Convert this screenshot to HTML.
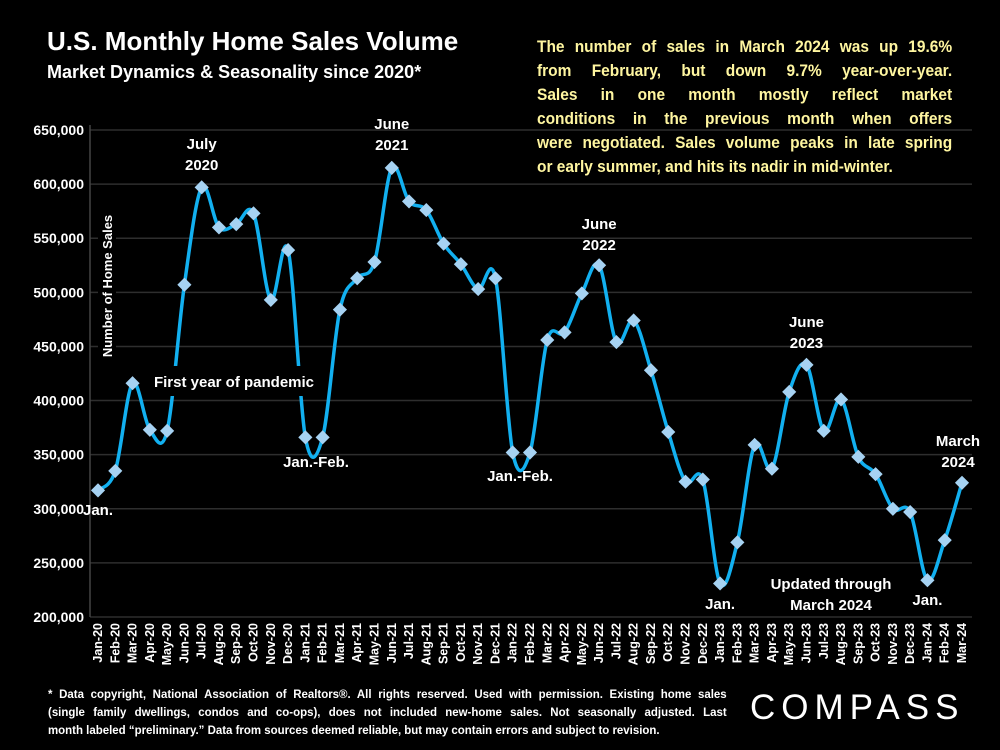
<!DOCTYPE html>
<html><head><meta charset="utf-8">
<style>
body{margin:0;background:#000;width:1000px;height:750px;overflow:hidden;font-family:"Liberation Sans",sans-serif;color:#fff}
.t{position:absolute;font-weight:bold}
.j{display:block;white-space:nowrap;text-align:justify;text-align-last:justify}
.l{display:block;white-space:nowrap}
</style></head><body>
<div class="t" style="left:47px;top:26px;font-size:26px">U.S. Monthly Home Sales Volume</div>
<div class="t" style="left:47px;top:62px;font-size:18px">Market Dynamics &amp; Seasonality since 2020*</div>
<div class="t" style="left:537px;top:35px;width:437px;font-size:16.3px;line-height:24px;color:#fff6a0;transform:scaleX(0.95);transform-origin:0 0">
<span class="j">The number of sales in March 2024 was up 19.6%</span>
<span class="j">from February, but down 9.7% year-over-year.</span>
<span class="j">Sales in one month mostly reflect market</span>
<span class="j">conditions in the previous month when offers</span>
<span class="j">were negotiated. Sales volume peaks in late spring</span>
<span class="l">or early summer, and hits its nadir in mid-winter.</span>
</div>
<div class="t" style="left:48px;top:685px;width:722px;font-size:12.2px;line-height:18px;transform:scaleX(0.94);transform-origin:0 0">
<span class="j">* Data copyright, National Association of Realtors®. All rights reserved. Used with permission. Existing home sales</span>
<span class="j">(single family dwellings, condos and co-ops), does not included new-home sales. Not seasonally adjusted. Last</span>
<span class="l">month labeled “preliminary.” Data from sources deemed reliable, but may contain errors and subject to revision.</span>
</div>
<div class="t" style="left:750px;top:688px;font-size:35px;font-weight:normal;letter-spacing:6px">COMPASS</div>
<svg id="c" width="1000" height="750" style="position:absolute;left:0;top:0"></svg>
<script>
const months=["Jan-20","Feb-20","Mar-20","Apr-20","May-20","Jun-20","Jul-20","Aug-20","Sep-20","Oct-20","Nov-20","Dec-20","Jan-21","Feb-21","Mar-21","Apr-21","May-21","Jun-21","Jul-21","Aug-21","Sep-21","Oct-21","Nov-21","Dec-21","Jan-22","Feb-22","Mar-22","Apr-22","May-22","Jun-22","Jul-22","Aug-22","Sep-22","Oct-22","Nov-22","Dec-22","Jan-23","Feb-23","Mar-23","Apr-23","May-23","Jun-23","Jul-23","Aug-23","Sep-23","Oct-23","Nov-23","Dec-23","Jan-24","Feb-24","Mar-24"];
const sales=[317,335,416,373,372,507,597,560,563,573,493,539,366,366,484,513,528,615,584,576,545,526,503,513,352,352,456,463,499,525,454,474,428,371,325,327,231,269,359,337,408,433,372,401,348,332,300,297,234,271,324];
const yTicks=[200,250,300,350,400,450,500,550,600,650];
const NS="http://www.w3.org/2000/svg",svg=document.getElementById('c');
const x=i=>98+i*(962-98)/(months.length-1);
const y=v=>617-(v-200)*(617-130)/450;
function mk(t,a,p){const e=document.createElementNS(NS,t);for(const k in a)e.setAttribute(k,a[k]);(p||svg).appendChild(e);return e;}
yTicks.forEach(v=>{
 const g=mk('line',{x1:90,x2:972,y1:y(v),y2:y(v),stroke:'#2e2e2e','stroke-width':1.5});
 
 
 const t=mk('text',{x:84,y:y(v)+5,'text-anchor':'end',fill:'#fff','font-size':14,'font-weight':'bold','font-family':'Liberation Sans'});
 t.textContent=(v*1000).toLocaleString('en-US');
 
 
});
mk('line',{x1:90,x2:90,y1:125,y2:617,stroke:'#444','stroke-width':1.5});
months.forEach((m,i)=>{
 const t=mk('text',{transform:`translate(${x(i)+4},623) rotate(-90)`,'text-anchor':'end',fill:'#fff','font-size':12.5,'font-weight':'bold','font-family':'Liberation Sans'});
 t.textContent=m;
 
 
});
const P=sales.map((v,i)=>[x(i),y(v)]);
let d=`M${P[0][0]},${P[0][1]}`;
for(let i=0;i<P.length-1;i++){
 const p0=P[Math.max(i-1,0)],p1=P[i],p2=P[i+1],p3=P[Math.min(i+2,P.length-1)];
 d+=` C${p1[0]+(p2[0]-p0[0])/6},${p1[1]+(p2[1]-p0[1])/6} ${p2[0]-(p3[0]-p1[0])/6},${p2[1]-(p3[1]-p1[1])/6} ${p2[0]},${p2[1]}`;
}
const ln=mk('path',{d:d,fill:'none',stroke:'#12b0f0','stroke-width':3.5});


P.forEach(p=>{
 const r=mk('rect',{x:p[0]-5,y:p[1]-5,width:10,height:10,fill:'#a6d2f2',transform:`rotate(45 ${p[0]} ${p[1]})`});
 
 
});
function label(lines,cx,cy,bg,name,anchor){
 const g=mk('g',{});
 
 
 if(bg)mk('rect',{x:bg[0],y:bg[1],width:bg[2],height:bg[3],fill:'#000'},g);
 lines.forEach((s,k)=>{const t=mk('text',{x:cx,y:cy+k*21,'text-anchor':anchor||'middle',fill:'#fff','font-size':15,'font-weight':'bold','font-family':'Liberation Sans'},g);t.textContent=s;});
}
label(['July','2020'],x(6),149,null,'annotation-july-2020');
label(['June','2021'],x(17),129,null,'annotation-june-2021');
label(['June','2022'],x(29),229,null,'annotation-june-2022');
label(['June','2023'],x(41),327,null,'annotation-june-2023');
label(['March','2024'],958,446,null,'annotation-march-2024');
label(['Jan.'],x(0),515,null,'annotation-jan-2020');
label(['Jan.-Feb.'],316,467,null,'annotation-jan-feb-2021');
label(['Jan.-Feb.'],520,481,null,'annotation-jan-feb-2022');
label(['Jan.'],x(36),609,null,'annotation-jan-2023');
label(['Jan.'],x(48),605,null,'annotation-jan-2024');
label(['Updated through','March 2024'],831,589,null,'annotation-updated');
label(['First year of pandemic'],234,387,[150,366,170,30],'annotation-pandemic');
const yt=mk('g',{});


mk('rect',{x:98,y:210,width:18,height:150,fill:'#000'},yt);
const tt=mk('text',{transform:'translate(112,286) rotate(-90)','text-anchor':'middle',fill:'#fff','font-size':13,'font-weight':'bold','font-family':'Liberation Sans'},yt);
tt.textContent='Number of Home Sales';
</script>
</body></html>
